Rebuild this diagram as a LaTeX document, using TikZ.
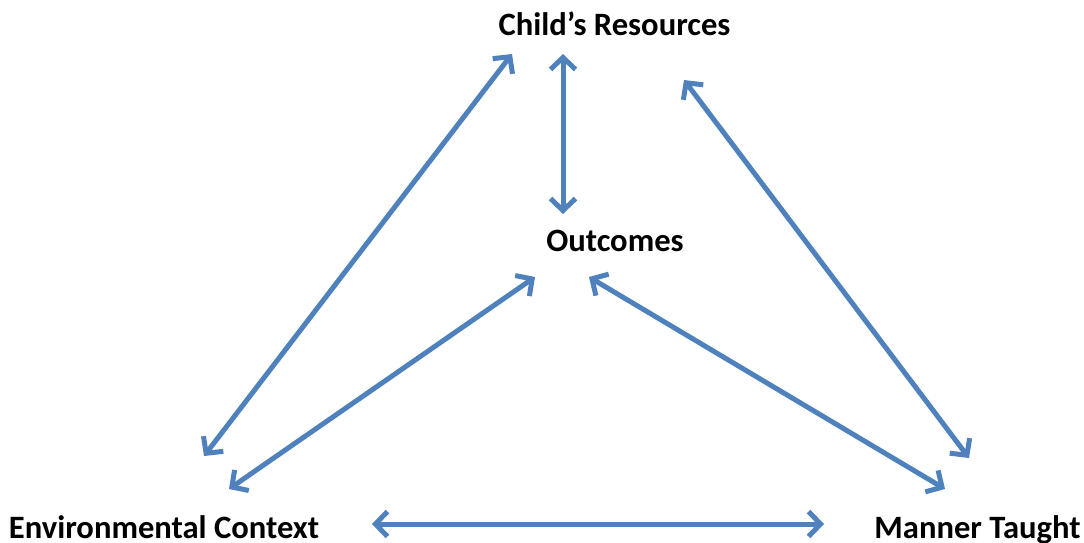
\documentclass[tikz,border=0pt]{standalone}
\usepackage{fontspec}
\setmainfont{Carlito}
\usetikzlibrary{arrows.meta}
\definecolor{linkblue}{HTML}{4F81BD}
\begin{document}
\begin{tikzpicture}[x=1pt,y=-1pt,
  lbl/.style={font=\fontsize{32.6}{38}\selectfont\bfseries, anchor=base, inner sep=0pt},
  link/.style={draw=linkblue, line width=5pt, line cap=round, line join=round,
    {Straight Barb[length=12pt,width=25pt,line width=5pt]}-{Straight Barb[length=12pt,width=25pt,line width=5pt]}}]
\useasboundingbox (0,0) rectangle (1084,542);
\node[lbl] (child) at (614.5,35) {Child’s Resources};
\node[lbl] (out) at (615,251) {Outcomes};
\node[lbl] (env) at (164,538) {Environmental Context};
\node[lbl] (man) at (977.5,538) {Manner Taught};
\coordinate (c1) at (512,54);
\coordinate (e1) at (204,456);
\coordinate (c2) at (563,54);
\coordinate (o1) at (563,214);
\coordinate (c3) at (684,80);
\coordinate (m1) at (969,458);
\coordinate (o2) at (535,277);
\coordinate (e2) at (229,489);
\coordinate (o3) at (589,277);
\coordinate (m2) at (945,489);
\coordinate (e3) at (372,524);
\coordinate (m3) at (824,524);
\draw[link] (c1) -- (e1);
\draw[link] (c2) -- (o1);
\draw[link] (c3) -- (m1);
\draw[link] (o2) -- (e2);
\draw[link] (o3) -- (m2);
\draw[link] (e3) -- (m3);
\end{tikzpicture}
\end{document}
